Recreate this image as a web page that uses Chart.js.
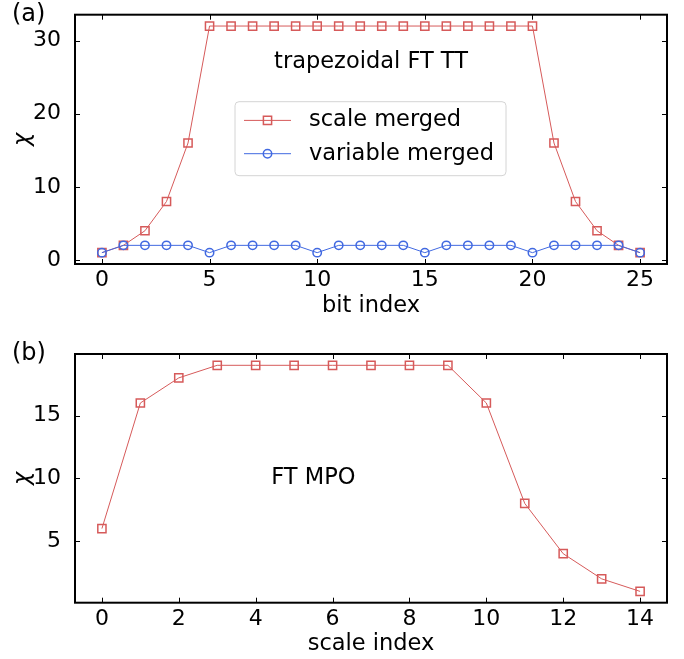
<!DOCTYPE html>
<html>
<head>
<meta charset="utf-8">
<script src="https://cdn.jsdelivr.net/npm/chart.js@4"></script>
<style>
  html, body { margin: 0; padding: 0; background: #fff; }
  #wrap { position: relative; width: 684px; height: 659px; }
  canvas { position: absolute; left: 0; }
</style>
</head>
<body>
<div id="wrap">
  <canvas id="panel-a" width="684" height="330" style="top:0"></canvas>
  <canvas id="panel-b" width="684" height="329" style="top:330px"></canvas>
</div>
<script>
// (a) bond dimension per bit, trapezoidal FT tensor train
const bitIndex = [0, 1, 2, 3, 4, 5, 6, 7, 8, 9, 10, 11, 12, 13, 14, 15, 16, 17, 18, 19, 20, 21, 22, 23, 24, 25];
const scaleMergedChi = [1, 2, 4, 8, 16, 32, 32, 32, 32, 32, 32, 32, 32, 32, 32, 32, 32, 32, 32, 32, 32, 16, 8, 4, 2, 1];
const variableMergedChi = [1, 2, 2, 2, 2, 1, 2, 2, 2, 2, 1, 2, 2, 2, 2, 1, 2, 2, 2, 2, 1, 2, 2, 2, 2, 1];
const bitTicks = [0, 5, 10, 15, 20, 25];
const chiTicksA = [0, 10, 20, 30];

// (b) bond dimension per scale, FT MPO
const scaleIndex = [0, 1, 2, 3, 4, 5, 6, 7, 8, 9, 10, 11, 12, 13, 14];
const mpoChi = [6, 16, 18, 19, 19, 19, 19, 19, 19, 19, 16, 8, 4, 2, 1];
const scaleTicks = [0, 2, 4, 6, 8, 10, 12, 14];
const chiTicksB = [5, 10, 15];

const RED = '#d65a5a';
const BLUE = '#4169e1';
const FONT = 'DejaVu Sans';
const TEXT_SIZE = 22.5;

Chart.defaults.font.family = FONT;
Chart.defaults.font.size = 22;
Chart.defaults.color = '#000';

function points(xs, ys) {
    return xs.map((x, i) => ({ x: x, y: ys[i] }));
}

// spines on all four sides with inward ticks
const frameTicks = {
    id: 'frameTicks',
    afterDatasetsDraw(chart) {
        const { ctx, chartArea: a, scales: { x, y } } = chart;
        const len = 5;
        ctx.save();
        ctx.strokeStyle = '#000';
        ctx.lineWidth = 1;
        ctx.beginPath();
        x.ticks.forEach(t => {
            const px = Math.round(x.getPixelForValue(t.value)) + 0.5;
            ctx.moveTo(px, a.bottom); ctx.lineTo(px, a.bottom - len);
            ctx.moveTo(px, a.top); ctx.lineTo(px, a.top + len);
        });
        y.ticks.forEach(t => {
            const py = Math.round(y.getPixelForValue(t.value)) + 0.5;
            ctx.moveTo(a.left, py); ctx.lineTo(a.left + len, py);
            ctx.moveTo(a.right, py); ctx.lineTo(a.right - len, py);
        });
        ctx.stroke();
        ctx.lineWidth = 2;
        ctx.strokeRect(a.left, a.top, a.right - a.left, a.bottom - a.top);
        ctx.restore();
    }
};

// panel tag, free text placed in data units, and a boxed legend inside the axes
const panelText = {
    id: 'panelText',
    afterDraw(chart, args, opts) {
        const { ctx, chartArea: a, scales: { x, y } } = chart;
        ctx.save();
        ctx.fillStyle = '#000';
        ctx.textBaseline = 'middle';
        ctx.textAlign = 'left';
        ctx.font = '24px "' + FONT + '"';
        ctx.fillText(opts.tag, 12, a.top);

        ctx.font = TEXT_SIZE + 'px "' + FONT + '"';
        ctx.textAlign = 'center';
        ctx.fillText(opts.note.text, x.getPixelForValue(opts.note.x), y.getPixelForValue(opts.note.y));

        const lg = opts.legend;
        if (lg) {
            const bx = a.left + lg.left;
            const by = a.top + lg.top;
            ctx.beginPath();
            ctx.roundRect(bx, by, lg.width, lg.height, 4);
            ctx.fillStyle = 'rgba(255,255,255,0.8)';
            ctx.fill();
            ctx.strokeStyle = '#d4d4d4';
            ctx.lineWidth = 1;
            ctx.stroke();

            chart.data.datasets.forEach((ds, i) => {
                const cy = by + lg.firstRow + i * lg.rowGap;
                ctx.strokeStyle = ds.borderColor;
                ctx.lineWidth = ds.borderWidth;
                ctx.beginPath();
                ctx.moveTo(bx + 9, cy);
                ctx.lineTo(bx + 56, cy);
                ctx.stroke();
                ctx.fillStyle = 'rgba(0,0,0,0)';
                ctx.strokeStyle = ds.pointBorderColor;
                ctx.lineWidth = ds.pointBorderWidth;
                Chart.helpers.drawPoint(ctx, {
                    pointStyle: ds.pointStyle,
                    radius: ds.pointRadius,
                    borderWidth: ds.pointBorderWidth,
                    rotation: 0
                }, bx + 32.5, cy);
                ctx.fillStyle = '#000';
                ctx.textAlign = 'left';
                ctx.fillText(ds.label, bx + 74, cy);
            });
        }
        ctx.restore();
    }
};

function series(label, xs, ys, color, style, radius, order) {
    return {
        label: label,
        data: points(xs, ys),
        borderColor: color,
        borderWidth: 1,
        pointStyle: style,
        pointRadius: radius,
        pointHoverRadius: radius,
        pointBorderColor: color,
        pointBackgroundColor: 'rgba(0,0,0,0)',
        pointBorderWidth: 1.5,
        tension: 0,
        order: order
    };
}

function makePanel(id, datasets, axes, text, box) {
    return new Chart(document.getElementById(id), {
        type: 'line',
        data: { datasets: datasets },
        options: {
            responsive: false,
            animation: false,
            devicePixelRatio: 1,
            layout: { padding: { left: 0, right: 17, top: box.top, bottom: 0 } },
            plugins: {
                legend: { display: false },
                tooltip: { enabled: false },
                panelText: text
            },
            scales: {
                x: {
                    type: 'linear',
                    min: axes.xMin,
                    max: axes.xMax,
                    grid: { display: false, drawTicks: false },
                    border: { display: false },
                    ticks: { autoSkip: false, maxRotation: 0, padding: 3 },
                    afterBuildTicks: s => { s.ticks = axes.xTicks.map(v => ({ value: v })); },
                    afterFit: s => {
                        s.height = box.xHeight;
                        s.paddingLeft = 0;
                        s.paddingRight = 0;
                    },
                    title: {
                        display: true,
                        text: axes.xTitle,
                        font: { size: TEXT_SIZE },
                        padding: { top: 0, bottom: box.titlePad }
                    }
                },
                y: {
                    min: axes.yMin,
                    max: axes.yMax,
                    grid: { display: false, drawTicks: false },
                    border: { display: false },
                    ticks: { padding: 14 },
                    afterBuildTicks: s => { s.ticks = axes.yTicks.map(v => ({ value: v })); },
                    afterFit: s => {
                        s.width = 75;
                        s.paddingTop = 0;
                        s.paddingBottom = 0;
                    },
                    title: {
                        display: true,
                        text: 'χ',
                        font: { size: TEXT_SIZE, style: 'italic' },
                        padding: { top: 10, bottom: 0 }
                    }
                }
            }
        },
        plugins: [frameTicks, panelText]
    });
}

makePanel('panel-a', [
    series('scale merged', bitIndex, scaleMergedChi, RED, 'rect', 5.8, 1),
    series('variable merged', bitIndex, variableMergedChi, BLUE, 'circle', 4.2, 0)
], {
    xMin: -1.25, xMax: 26.25, xTicks: bitTicks, xTitle: 'bit index',
    yMin: -0.55, yMax: 33.55, yTicks: chiTicksA
}, {
    tag: '(a)',
    note: { text: 'trapezoidal FT TT', x: 12.5, y: 27 },
    legend: { left: 160, top: 87, width: 271, height: 74, firstRow: 18.7, rowGap: 33.3 }
}, { top: 14.7, xHeight: 66, titlePad: 10 });

makePanel('panel-b', [
    series('scale merged', scaleIndex, mpoChi, RED, 'rect', 5.8, 0)
], {
    xMin: -0.7, xMax: 14.7, xTicks: scaleTicks, xTitle: 'scale index',
    yMin: 0.1, yMax: 19.9, yTicks: chiTicksB
}, {
    tag: '(b)',
    note: { text: 'FT MPO', x: 5.5, y: 10 }
}, { top: 24, xHeight: 56.3, titlePad: 1.4 });
</script>
</body>
</html>
